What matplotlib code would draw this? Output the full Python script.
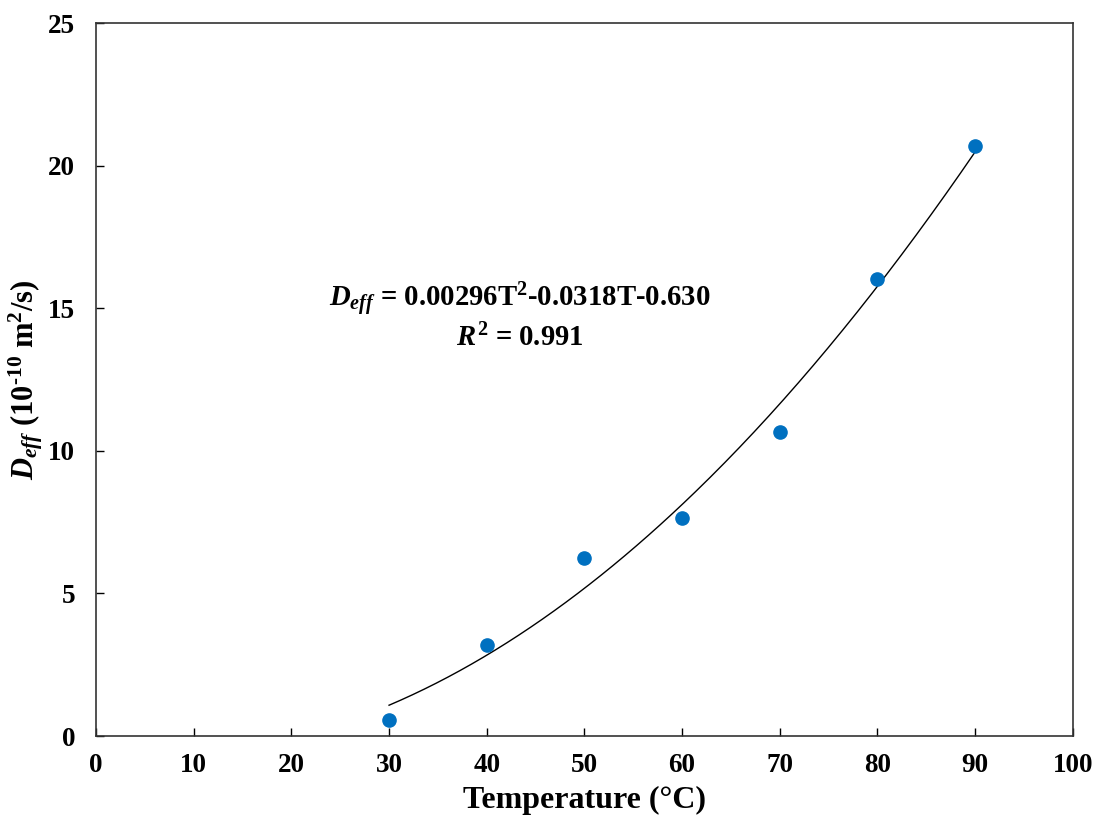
import numpy as np
import matplotlib
matplotlib.use("Agg")
import matplotlib.pyplot as plt

# measured points
temp = [30, 40, 50, 60, 70, 80, 90]
deff = [0.56, 3.19, 6.25, 7.65, 10.67, 16.04, 20.7]

# quadratic fit shown on the chart
coef = [0.00296, -0.0318, -0.630]
fit_t = np.linspace(30, 90, 200)
fit_d = np.polyval(coef, fit_t)

plt.rcParams['font.family'] = ['Liberation Serif', 'DejaVu Serif']
plt.rcParams['font.weight'] = 'bold'
plt.rcParams['mathtext.fontset'] = 'custom'
plt.rcParams['mathtext.rm'] = 'Liberation Serif:bold'
plt.rcParams['mathtext.it'] = 'Liberation Serif:italic:bold'
plt.rcParams['mathtext.bf'] = 'Liberation Serif:bold'

fig = plt.figure(figsize=(10.97, 8.22), dpi=100)
ax = fig.add_axes([0.0875, 0.1046, 0.8905, 0.8674])

ax.plot(fit_t, fit_d, color='black', lw=1.0)
ax.plot(temp, deff, 'o', color='#0070C0', ms=9.5, ls='none')

ax.set_xlim(0, 100)
ax.set_ylim(0, 25)
ax.set_xticks(range(0, 101, 10))
ax.set_yticks(range(0, 26, 5))
ax.tick_params(direction='in', length=6, width=1, labelsize=19.5)
ax.tick_params(axis='x', pad=12)
ax.tick_params(axis='y', pad=15)
for lab in ax.get_xticklabels() + ax.get_yticklabels():
    lab.set_fontweight('bold')
for s in ax.spines.values():
    s.set_linewidth(1.2)
    s.set_color('#333333')

ax.set_xlabel('Temperature (°C)', fontsize=23, fontweight='bold', labelpad=6)
ax.set_ylabel(r'$D_{eff}$' + ' (10$^{\\text{-}10}$ m$^2$/s)', fontsize=22,
              fontweight='bold')
ax.yaxis.set_label_coords(-0.052, 0.5)

ax.text(43.4, 15.3, r'$D_{eff}$' + ' = 0.00296T$^2$-0.0318T-0.630',
        fontsize=20.7, fontweight='bold', ha='center', va='center')
ax.text(43.4, 13.95, r'$R^2$' + ' = 0.991',
        fontsize=20.7, fontweight='bold', ha='center', va='center')

fig.savefig('out.png', dpi=100)
